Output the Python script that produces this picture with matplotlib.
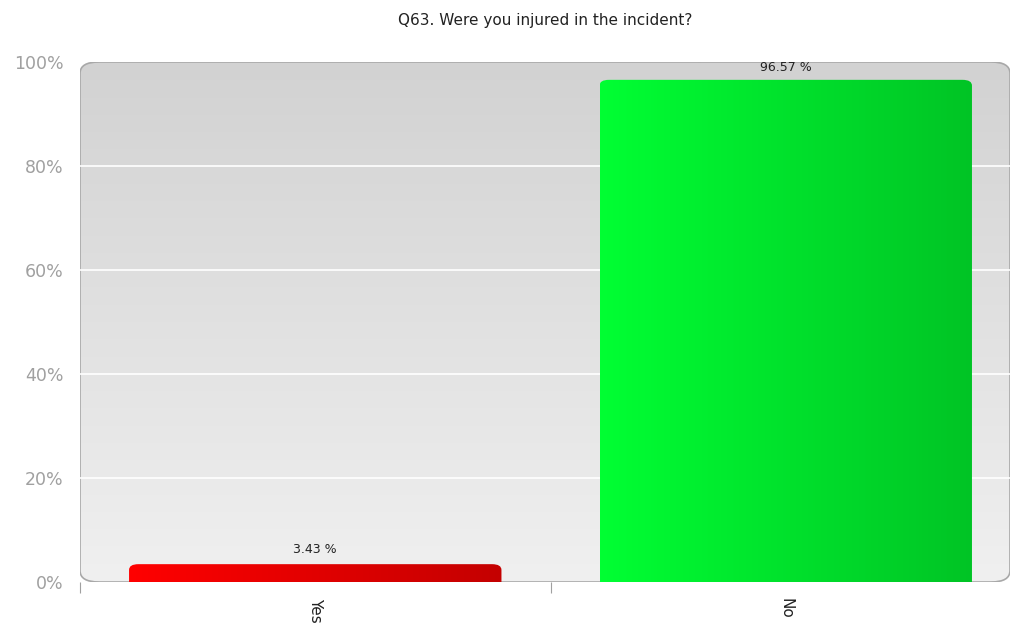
import numpy as np
import matplotlib.pyplot as plt
from matplotlib.patches import FancyBboxPatch
from matplotlib.colors import LinearSegmentedColormap

title = 'Q63. Were you injured in the incident?'
categories = ['Yes', 'No']
values = [3.43, 96.57]
labels = ['3.43 %', '96.57 %']
bar_colors = [('#ff0000', '#c40000'), ('#00ff33', '#00c425')]
yticks = [0, 20, 40, 60, 80, 100]

fig = plt.figure(figsize=(10.13, 6.44), dpi=100)
ax = fig.add_axes([80/1013, 62/644, 930/1013, 520/644])
xmax = 1.5 - 11/470
ax.set_xlim(-0.5, xmax)
ax.set_ylim(0, 100)

# background gradient
bg = LinearSegmentedColormap.from_list('bg', ['#f0f0f0', '#d2d2d2'])
grad = np.linspace(0, 1, 256).reshape(-1, 1)
im = ax.imshow(grad, cmap=bg, aspect='auto', extent=(-0.5, xmax, 0, 100),
               origin='lower', zorder=0)
frame = FancyBboxPatch((-0.5, 0), xmax + 0.5, 100,
                       boxstyle='round,pad=0,rounding_size=0.04',
                       mutation_aspect=100/1.0*0.55,
                       fc='none', ec='#a8a8a8', lw=1.2, zorder=1)
ax.add_patch(frame)
im.set_clip_path(frame)

for y in yticks[1:-1]:
    ax.axhline(y, color='white', lw=1.2, zorder=1)

# bars with horizontal gradient, rounded on top only
width = 372/470
for i, (v, (c1, c2)) in enumerate(zip(values, bar_colors)):
    cmap = LinearSegmentedColormap.from_list('b%d' % i, [c1, c2])
    x0 = i - width/2
    patch = FancyBboxPatch((x0, -5), width, v + 5,
                           boxstyle='round,pad=0,rounding_size=0.02',
                           mutation_aspect=100/1.0*0.55,
                           fc='none', ec='none', zorder=2)
    ax.add_patch(patch)
    g = ax.imshow(np.linspace(0, 1, 256).reshape(1, -1), cmap=cmap, aspect='auto',
                  extent=(x0, x0 + width, 0, v), zorder=2)
    g.set_clip_path(patch)
    ax.text(i, min(v + 1.5, 97.6), labels[i], ha='center', va='bottom', fontsize=9,
            color='#222222', zorder=3)

for s in ax.spines.values():
    s.set_visible(False)
ax.set_yticks(yticks)
ax.set_yticklabels(['%d%%' % t for t in yticks], color='#a0a0a0', fontsize=12.5)
ax.tick_params(axis='y', length=0, pad=12)
ax.set_xticks([-0.5, 0.5])
ax.set_xticklabels([])
ax.tick_params(axis='x', length=8, color='#a0a0a0', direction='out')
for i, c in enumerate(categories):
    ax.text(i, -3, c, rotation=-90, ha='center', va='top', fontsize=11,
            color='#222222')

fig.text(545/1013, 1 - 20/644, title, ha='center', va='center', fontsize=11,
         color='#222222')

fig.savefig('out.png', dpi=100)
